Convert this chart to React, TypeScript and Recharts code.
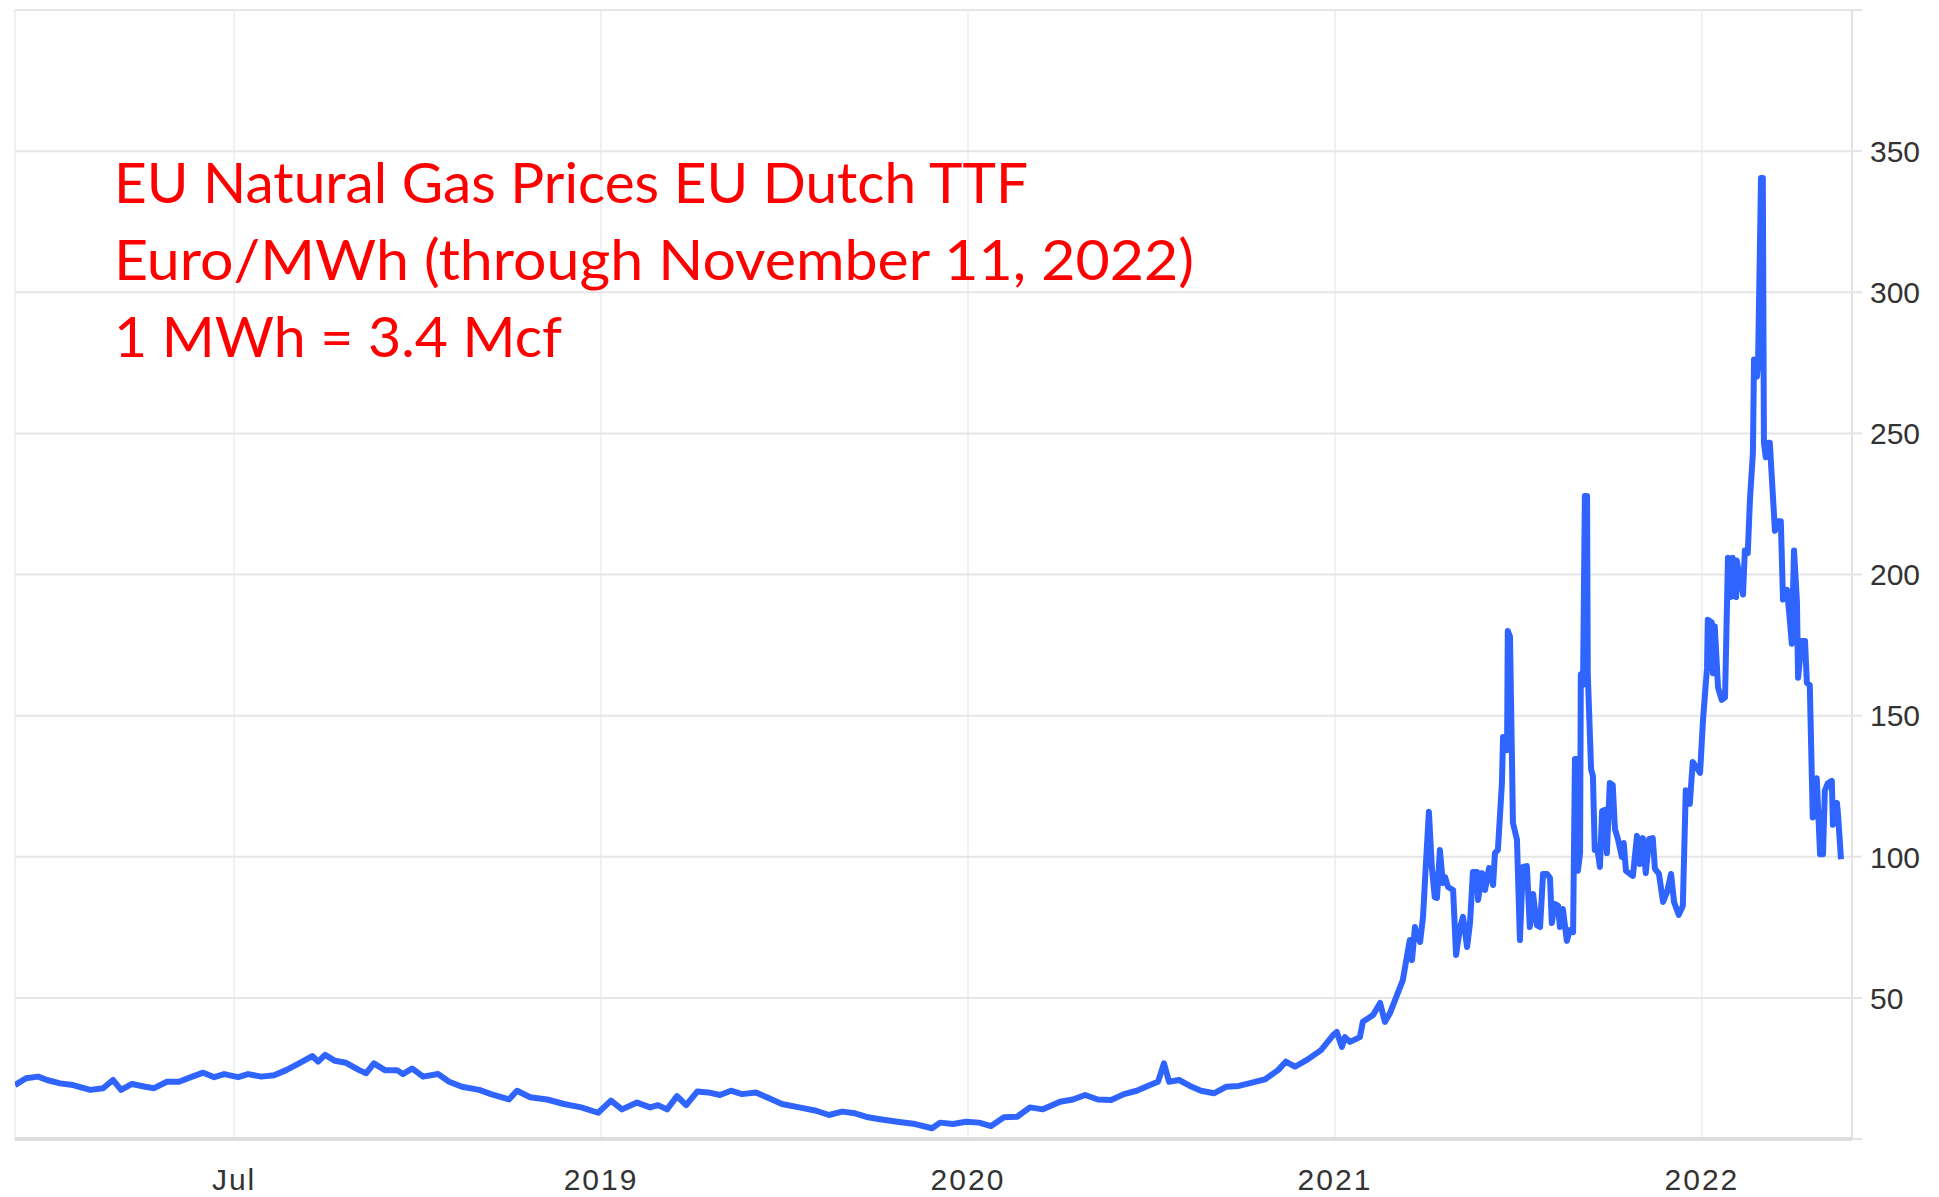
import { LineChart, Line, XAxis, YAxis, CartesianGrid } from "recharts";

// decimal years (Nov 2017 .. Nov 11, 2022)
const dates = [
  2017.903, 2017.933, 2017.966, 2017.99, 2018.026, 2018.061, 2018.108, 2018.143, 2018.17, 2018.192,
  2018.222, 2018.258, 2018.282, 2018.317, 2018.35, 2018.386, 2018.416, 2018.446, 2018.473, 2018.511,
  2018.538, 2018.574, 2018.609, 2018.642, 2018.677, 2018.713, 2018.729, 2018.748, 2018.775, 2018.805,
  2018.841, 2018.86, 2018.881, 2018.911, 2018.944, 2018.96, 2018.985, 2019.015, 2019.056, 2019.086,
  2019.121, 2019.168, 2019.2, 2019.249, 2019.271, 2019.307, 2019.353, 2019.399, 2019.446, 2019.492,
  2019.527, 2019.557, 2019.598, 2019.634, 2019.655, 2019.68, 2019.707, 2019.732, 2019.762, 2019.792,
  2019.824, 2019.854, 2019.884, 2019.922, 2019.958, 2019.993, 2020.04, 2020.086, 2020.121, 2020.157,
  2020.192, 2020.228, 2020.26, 2020.307, 2020.356, 2020.402, 2020.424, 2020.459, 2020.495, 2020.53,
  2020.563, 2020.598, 2020.634, 2020.669, 2020.704, 2020.751, 2020.786, 2020.819, 2020.854, 2020.89,
  2020.925, 2020.96, 2020.996, 2021.018, 2021.034, 2021.048, 2021.075, 2021.105, 2021.135, 2021.17,
  2021.203, 2021.238, 2021.274, 2021.309, 2021.345, 2021.366, 2021.391, 2021.426, 2021.462, 2021.495,
  2021.505, 2021.519, 2021.527, 2021.541, 2021.568, 2021.576, 2021.604, 2021.623, 2021.636, 2021.65,
  2021.669, 2021.685, 2021.704, 2021.71, 2021.718, 2021.726, 2021.732, 2021.74, 2021.748, 2021.756,
  2021.764, 2021.772, 2021.778, 2021.786, 2021.794, 2021.8, 2021.808, 2021.822, 2021.83, 2021.841,
  2021.849, 2021.854, 2021.86, 2021.868, 2021.876, 2021.887, 2021.89, 2021.901, 2021.909, 2021.92,
  2021.931, 2021.936, 2021.944, 2021.955, 2021.958, 2021.969, 2021.971, 2021.977, 2021.982, 2021.985,
  2021.996, 2022.004, 2022.012, 2022.023, 2022.031, 2022.04, 2022.05, 2022.059, 2022.067, 2022.078,
  2022.086, 2022.091, 2022.099, 2022.108, 2022.113, 2022.121, 2022.132, 2022.14, 2022.149, 2022.154,
  2022.159, 2022.162, 2022.168, 2022.17, 2022.176, 2022.181, 2022.187, 2022.189, 2022.198, 2022.203,
  2022.208, 2022.214, 2022.222, 2022.228, 2022.236, 2022.241, 2022.249, 2022.257, 2022.263, 2022.271,
  2022.282, 2022.287, 2022.293, 2022.304, 2022.312, 2022.323, 2022.331, 2022.339, 2022.347, 2022.356,
  2022.366, 2022.372, 2022.383, 2022.394, 2022.405, 2022.416, 2022.424, 2022.437, 2022.448, 2022.456,
  2022.467, 2022.475, 2022.495, 2022.503, 2022.514, 2022.516, 2022.527, 2022.53, 2022.535, 2022.544,
  2022.554, 2022.563, 2022.571, 2022.579, 2022.584, 2022.593, 2022.595, 2022.604, 2022.612, 2022.617,
  2022.625, 2022.631, 2022.639, 2022.642, 2022.65, 2022.653, 2022.661, 2022.666, 2022.669, 2022.674,
  2022.68, 2022.685, 2022.699, 2022.707, 2022.715, 2022.721, 2022.732, 2022.74, 2022.745, 2022.751,
  2022.759, 2022.762, 2022.772, 2022.781, 2022.786, 2022.794, 2022.802, 2022.813, 2022.822, 2022.83,
  2022.835, 2022.843, 2022.854, 2022.857, 2022.868, 2022.871, 2022.879,
];

// Euro/MWh
const prices = [
  19.1, 21.5, 22.1, 20.9, 19.7, 19.1, 17.4, 18, 20.9, 17.4,
  19.5, 18.5, 18, 20.3, 20.3, 22.1, 23.5, 21.9, 23, 21.9,
  23, 22.1, 22.6, 24.4, 26.8, 29.4, 27.4, 29.8, 27.7, 27,
  24.4, 23.3, 26.8, 24.4, 24.4, 23, 25, 22.1, 23, 20.3,
  18.5, 17.4, 15.9, 14, 17.1, 14.8, 14, 12.4, 11.2, 9.3,
  13.6, 10.5, 12.9, 11.2, 12, 10.5, 15.2, 12, 16.8, 16.5,
  15.6, 17.1, 15.9, 16.5, 14.4, 12.4, 11.2, 10, 8.5, 9.7,
  9.1, 7.7, 7, 6.1, 5.3, 3.8, 5.8, 5.3, 6.1, 5.8,
  4.6, 7.7, 7.9, 11.2, 10.5, 13.2, 14, 15.6, 14, 13.8,
  15.9, 17.1, 19.1, 20.3, 26.8, 20.3, 20.9, 18.8, 17.1, 16.2,
  18.5, 18.8, 20, 21.1, 24.4, 27.4, 25.6, 28.2, 31.5, 36.8,
  37.9, 32.6, 36.1, 34.4, 36.1, 41.5, 43.9, 48.2, 41.5, 44.6,
  51, 56.3, 70.5, 63.4, 75.1, 71.6, 69.8, 78.7, 97.8, 115.9,
  96.4, 85.7, 85.4, 102.4, 90.7, 92.8, 89.3, 88.2, 65.2, 75.1,
  78.7, 74, 68, 76.5, 94.6, 94.6, 84.7, 94.2, 88.2, 96,
  90, 101.3, 102.4, 126, 142.4, 137.8, 180, 178, 137.8, 112,
  106, 70.5, 96.4, 96.7, 75.1, 86.8, 75.8, 75.1, 93.9, 93.9,
  92.5, 76.5, 83.3, 82.6, 75.1, 81.5, 70.2, 74, 73.3, 134.6,
  134.6, 95, 101.3, 164.7, 160.9, 227.8, 227.8, 164.7, 131, 128.6,
  102.4, 103.8, 96.4, 116.2, 116.6, 101.3, 126.1, 125.4, 109.8, 106.3,
  99.9, 104.9, 95, 93.9, 93.2, 107.4, 97.4, 106.6, 94.2, 106.3,
  106.6, 95.7, 93.9, 84, 87.5, 93.9, 84, 79.4, 82.6, 123.6,
  118.7, 133.6, 129.7, 148.5, 167, 184, 183, 165, 181.6, 159.9,
  155.6, 156.4, 205.9, 192, 205.9, 192, 205, 198.1, 192.9, 208.5,
  207.6, 226.7, 243.2, 276.2, 270.1, 274.5, 340.5, 340.5, 246.7, 241.5,
  246.7, 246.7, 215.5, 218.9, 218.9, 191.1, 194.6, 183.3, 175.5, 208.5,
  190.3, 163.4, 176.4, 176.4, 161.6, 160.8, 113.9, 127.8, 100.9, 100.9,
  123.4, 126, 126.9, 111.3, 119.1, 114.8, 99.1,
];

const xTicks = [2018.5, 2019.5, 2020.5, 2021.5, 2022.5];
const xTickLabels = ["Jul", "2019", "2020", "2021", "2022"];
const yTicks = [0, 50, 100, 150, 200, 250, 300, 350, 400];
const titleLines = [
  "EU Natural Gas Prices EU Dutch TTF",
  "Euro/MWh (through November 11, 2022)",
  "1 MWh = 3.4 Mcf",
];

const data = dates.map((t, i) => ({ t, price: prices[i] }));

function YTick({ x, y, payload }: any) {
  if (payload.value === 0 || payload.value === 400) return null;
  return (
    <text
      x={x}
      y={y}
      dy="0.36em"
      textAnchor="start"
      fontSize={30}
      fontFamily="'Liberation Sans', Arial, sans-serif"
      fill="#333"
    >
      {payload.value}
    </text>
  );
}

function XTick({ x, y, payload }: any) {
  const idx = xTicks.indexOf(payload.value);
  return (
    <text
      x={x}
      y={y}
      dy="0.71em"
      textAnchor="middle"
      fontSize={30}
      letterSpacing={2}
      fontFamily="'Liberation Sans', Arial, sans-serif"
      fill="#333"
    >
      {idx >= 0 ? xTickLabels[idx] : ""}
    </text>
  );
}

export default function App() {
  // widths of the three title lines, to match the original's face
  const titleWidths = [914, 1080, 448];
  return (
    <div style={{ position: "absolute", left: 0, top: 0, width: 1939, height: 1197, background: "#fff" }}>
      <LineChart
        width={1939}
        height={1197}
        data={data}
        margin={{ top: 10, right: 0, bottom: 0, left: 15 }}
      >
        <CartesianGrid vertical={true} horizontal={false} stroke="#eef1f5" strokeWidth={2} />
        <CartesianGrid vertical={false} horizontal={true} stroke="#e6e6e6" strokeWidth={2} />
        <XAxis
          dataKey="t"
          type="number"
          domain={[2017.903, 2022.909]}
          allowDataOverflow
          ticks={xTicks}
          tick={<XTick />}
          tickLine={false}
          tickSize={0}
          tickMargin={30}
          height={58}
          axisLine={{ stroke: "#dedede", strokeWidth: 4 }}
        />
        <YAxis
          orientation="right"
          type="number"
          domain={[0, 400]}
          ticks={yTicks}
          interval={0}
          width={87}
          tick={<YTick />}
          tickSize={10}
          tickMargin={8}
          tickLine={{ stroke: "#e3e3e3", strokeWidth: 2 }}
          axisLine={{ stroke: "#e3e3e3", strokeWidth: 2 }}
        />
        <Line
          type="linear"
          dataKey="price"
          stroke="#3064ff"
          strokeWidth={6}
          strokeLinejoin="round"
          dot={false}
          isAnimationActive={false}
        />
      </LineChart>
      <svg
        width={1939}
        height={1197}
        style={{ position: "absolute", left: 0, top: 0, pointerEvents: "none" }}
      >
        {titleLines.map((line, i) => (
          <text
            key={i}
            x={114}
            y={203 + i * 77}
            fontSize={57}
            textLength={titleWidths[i]}
            lengthAdjust="spacingAndGlyphs"
            fontFamily="Lato, 'Open Sans', sans-serif"
            fill="#ff0000"
          >
            {line}
          </text>
        ))}
      </svg>
    </div>
  );
}
